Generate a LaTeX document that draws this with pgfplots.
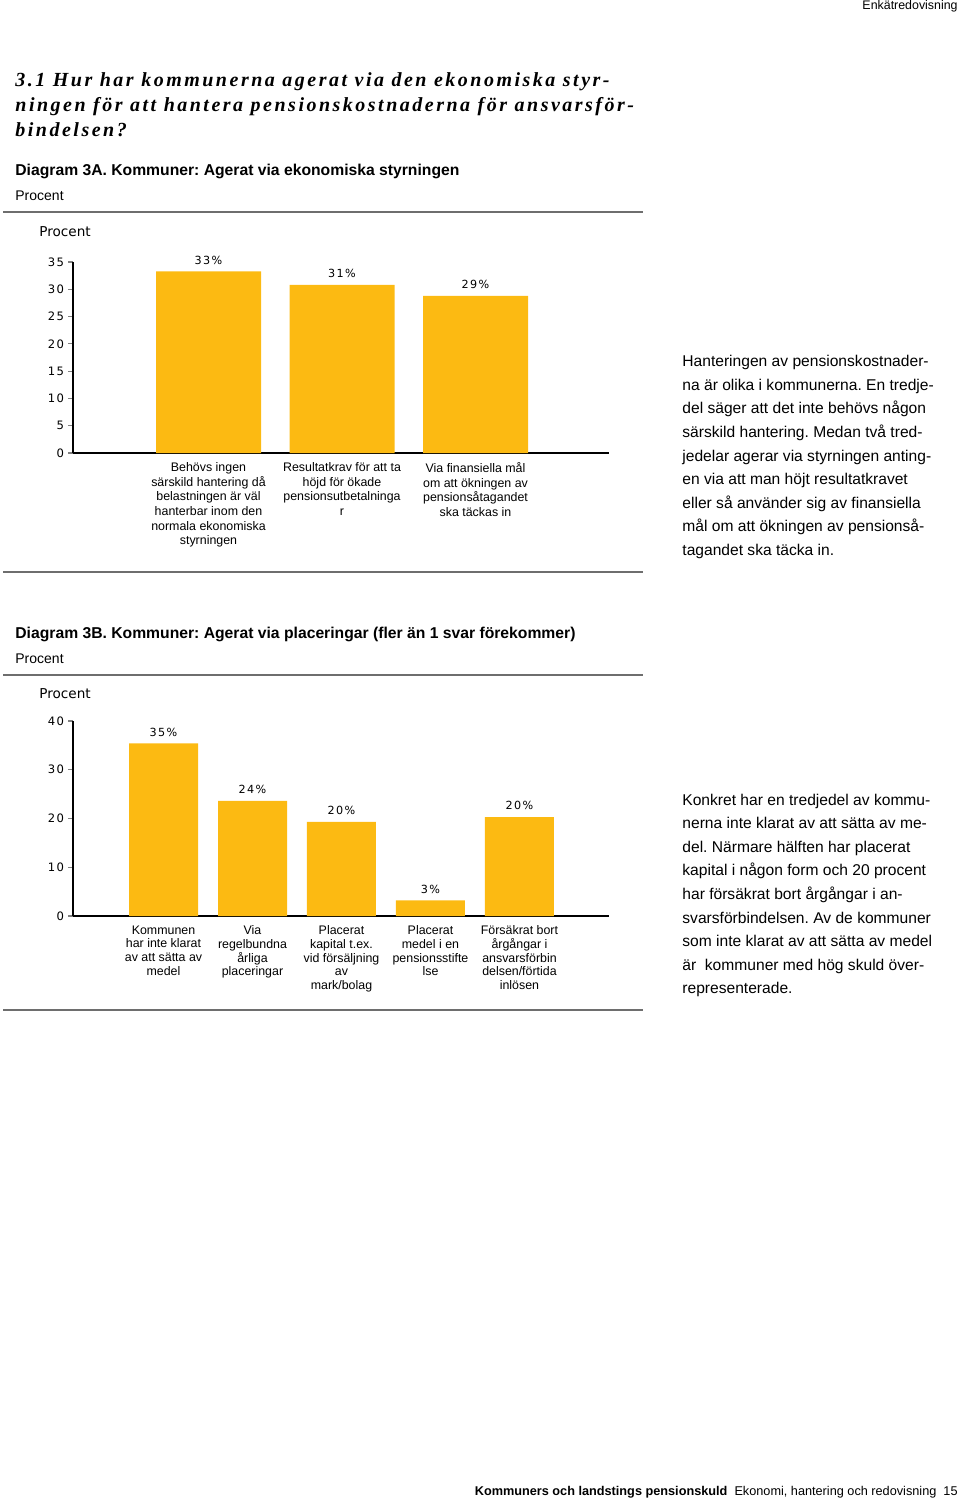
\documentclass[border=0pt]{standalone}
\usepackage{pgfplots}
\pgfplotsset{compat=1.18}
\usepackage{fontspec}
\setmainfont{Liberation Sans}
\newfontfamily\verd[LetterSpace=12]{DejaVu Sans}
\newfontfamily\verdp{DejaVu Sans}
\newfontfamily\titlefont[LetterSpace=12.5]{Liberation Serif}
\definecolor{barc}{RGB}{252,186,18}
\definecolor{rulec}{RGB}{110,110,110}
\frenchspacing
\begin{document}
\begin{tikzpicture}
% page frame
\path (0,0) rectangle (480pt,-751pt);
\begin{scope}[x=0.5pt,y=-0.5pt]
% header
\node[anchor=base east,inner sep=0,font=\fontsize{6.2}{7}\selectfont] at (958,10) {Enkätredovisning};
% title
\node[anchor=base west,inner sep=0,font=\titlefont\bfseries\itshape\fontsize{10}{12}\selectfont] at (15,87) {3.1 Hur har kommunerna agerat via den ekonomiska styr-};
\node[anchor=base west,inner sep=0,font=\titlefont\bfseries\itshape\fontsize{10}{12}\selectfont] at (15,112) {ningen för att hantera pensionskostnaderna för ansvarsför-};
\node[anchor=base west,inner sep=0,font=\titlefont\bfseries\itshape\fontsize{10}{12}\selectfont] at (15,137) {bindelsen?};
% diagram 3A captions
\node[anchor=base west,inner sep=0,font=\bfseries\fontsize{7.85}{9}\selectfont] at (15,176) {Diagram 3A. Kommuner: Agerat via ekonomiska styrningen};
\node[anchor=base west,inner sep=0,font=\fontsize{7}{8}\selectfont] at (15,201) {Procent};
\draw[rulec,line width=1pt] (3,212) -- (643,212);
\node[anchor=base west,inner sep=0,font=\verdp\fontsize{6.8}{8}\selectfont] at (39,237) {Procent};
\draw[rulec,line width=1pt] (3,572) -- (643,572);
% right text A
\begin{scope}[every node/.style={anchor=base west,inner sep=0,font=\fontsize{7.8}{9}\selectfont}]
\node at (682,367) {Hanteringen av pensionskostnader-};
\node at (682,390.5) {na är olika i kommunerna. En tredje-};
\node at (682,414) {del säger att det inte behövs någon};
\node at (682,437.5) {särskild hantering. Medan två tred-};
\node at (682,461) {jedelar agerar via styrningen anting-};
\node at (682,484.5) {en via att man höjt resultatkravet};
\node at (682,508) {eller så använder sig av finansiella};
\node at (682,531.5) {mål om att ökningen av pensionså-};
\node at (682,555) {tagandet ska täcka in.};
\end{scope}
% diagram 3B captions
\node[anchor=base west,inner sep=0,font=\bfseries\fontsize{7.85}{9}\selectfont] at (15,638) {Diagram 3B. Kommuner: Agerat via placeringar (fler än 1 svar förekommer)};
\node[anchor=base west,inner sep=0,font=\fontsize{7}{8}\selectfont] at (15,663) {Procent};
\draw[rulec,line width=1pt] (3,675) -- (643,675);
\node[anchor=base west,inner sep=0,font=\verdp\fontsize{6.8}{8}\selectfont] at (39,698) {Procent};
\draw[rulec,line width=1pt] (3,1010) -- (643,1010);
% right text B
\begin{scope}[every node/.style={anchor=base west,inner sep=0,font=\fontsize{7.8}{9}\selectfont}]
\node at (682,805) {Konkret har en tredjedel av kommu-};
\node at (682,828.6) {nerna inte klarat av att sätta av me-};
\node at (682,852.2) {del. Närmare hälften har placerat};
\node at (682,875.8) {kapital i någon form och 20 procent};
\node at (682,899.4) {har försäkrat bort årgångar i an-};
\node at (682,923) {svarsförbindelsen. Av de kommuner};
\node at (682,946.6) {som inte klarat av att sätta av medel};
\node at (682,970.2) {är\ \ kommuner med hög skuld över-};
\node at (682,993.8) {representerade.};
\end{scope}
% footer
\node[anchor=base east,inner sep=0,font=\fontsize{6.35}{7}\selectfont] at (958,1495) {\textbf{Kommuners och landstings pensionskuld}\ \ Ekonomi, hantering och redovisning\ \ 15};
\end{scope}

\pgfplotsset{pagebar/.style={
  scale only axis,
  axis x line=bottom, axis y line=left,
  axis line style={-, line width=0.6pt},
  tick align=outside,
  major tick length=2.5pt,
  ytick style={line width=0.6pt},
  xtick style={draw=none},
  ymin=0,
  /pgf/number format/assume math mode=true,
  yticklabel style={font=\verd\fontsize{5.8}{6}\selectfont, xshift=1.5pt},
  xticklabel style={align=center, anchor=north, yshift=1.3pt},
  clip=false,
}}

\begin{axis}[pagebar,
  at={(36.5pt,-226.5pt)}, anchor=south west,
  width=268pt, height=95.5pt,
  xmin=-1.015, xmax=3.0,
  ymax=35, ytick={0,5,...,35},
  xtick={0,1,2},
  xticklabel style={font=\fontsize{6.2}{7.35}\selectfont},
  xticklabels={{Behövs ingen\\särskild hantering då\\belastningen är väl\\hanterbar inom den\\normala ekonomiska\\styrningen},
                {Resultatkrav för att ta\\höjd för ökade\\pensionsutbetalninga\\r},
                {Via finansiella mål\\om att ökningen av\\pensionsåtagandet\\ska täckas in}},
]
\addplot[ybar, bar width=52.5pt, fill=barc, draw=none,
  nodes near coords, point meta=explicit symbolic,
  every node near coord/.append style={font=\verd\fontsize{5.6}{6}\selectfont, text=black}]
  coordinates {(0,33.3) [33\%] (1,30.8) [31\%] (2,28.8) [29\%]};
\end{axis}

\begin{axis}[pagebar,
  at={(36.5pt,-458pt)}, anchor=south west,
  width=268pt, height=97.5pt,
  xmin=-1.017, xmax=5.006,
  ymax=40, ytick={0,10,...,40},
  xtick={0,1,2,3,4},
  xticklabel style={font=\fontsize{6.2}{6.9}\selectfont},
  xticklabels={{Kommunen\\har inte klarat\\av att sätta av\\medel},
                {Via\\regelbundna\\årliga\\placeringar},
                {Placerat\\kapital t.ex.\\vid försäljning\\av\\mark/bolag},
                {Placerat\\medel i en\\pensionsstifte\\lse},
                {Försäkrat bort\\årgångar i\\ansvarsförbin\\delsen/förtida\\inlösen}},
]
\addplot[ybar, bar width=34.5pt, fill=barc, draw=none,
  nodes near coords, point meta=explicit symbolic,
  every node near coord/.append style={font=\verd\fontsize{5.6}{6}\selectfont, text=black}]
  coordinates {(0,35.4) [35\%] (1,23.6) [24\%] (2,19.3) [20\%] (3,3.2) [3\%] (4,20.3) [20\%]};
\end{axis}
\end{tikzpicture}
\end{document}
